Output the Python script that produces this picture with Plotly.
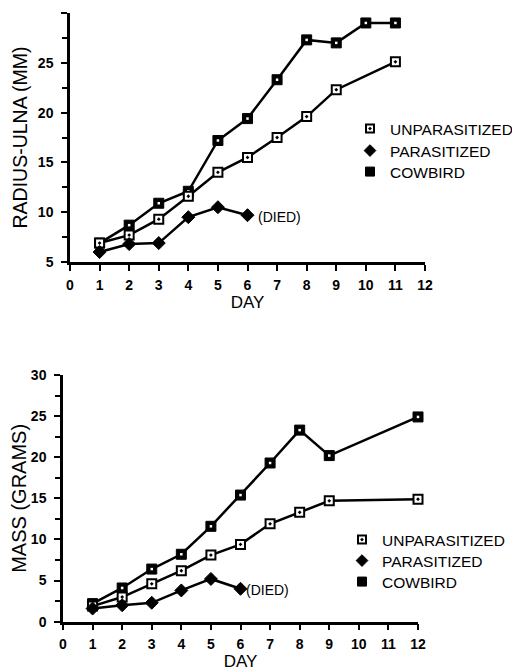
import plotly.graph_objects as go

# ---- data: top panel (radius-ulna, mm) ----
top_days_cowbird = [1, 2, 3, 4, 5, 6, 7, 8, 9, 10, 11]
top_cowbird = [6.9, 8.7, 10.9, 12.1, 17.2, 19.4, 23.3, 27.3, 27.0, 29.0, 29.0]
top_days_unpar = [1, 2, 3, 4, 5, 6, 7, 8, 9, 11]
top_unpar = [6.9, 7.7, 9.3, 11.6, 14.0, 15.5, 17.5, 19.6, 22.3, 25.1]
top_days_par = [1, 2, 3, 4, 5, 6]
top_par = [6.0, 6.8, 6.9, 9.5, 10.5, 9.7]

# ---- data: bottom panel (mass, grams) ----
bot_days = [1, 2, 3, 4, 5, 6, 7, 8, 9, 12]
bot_cowbird = [2.2, 4.1, 6.4, 8.2, 11.6, 15.4, 19.3, 23.3, 20.2, 24.9]
bot_unpar = [1.9, 3.0, 4.6, 6.2, 8.1, 9.4, 11.9, 13.3, 14.7, 14.9]
bot_days_par = [1, 2, 3, 4, 5, 6]
bot_par = [1.6, 2.0, 2.3, 3.8, 5.2, 4.0]

series_names = ["UNPARASITIZED", "PARASITIZED", "COWBIRD"]
x_ticks = list(range(0, 13))
died_label = "(DIED)"

FONT = "Liberation Sans, Arial, Helvetica, sans-serif"
BLACK = "black"
LW = 2.5

unpar_marker = dict(symbol="square-dot", size=9, color="white", line=dict(color=BLACK, width=2))
par_marker = dict(symbol="diamond", size=10, color=BLACK, line=dict(color=BLACK, width=1))
cow_marker = dict(symbol="square", size=10, color=BLACK, line=dict(color=BLACK, width=1))
cow_center = dict(symbol="square", size=2.5, color="white", line=dict(width=0))

fig = go.Figure()

def add_panel(xa, ya, dx_u, y_u, dx_p, y_p, dx_c, y_c):
    fig.add_trace(go.Scatter(x=dx_c, y=y_c, mode="lines+markers", xaxis=xa, yaxis=ya,
                             line=dict(color=BLACK, width=LW), marker=cow_marker,
                             showlegend=False, cliponaxis=False))
    fig.add_trace(go.Scatter(x=dx_c, y=y_c, mode="markers", xaxis=xa, yaxis=ya,
                             marker=cow_center, showlegend=False, cliponaxis=False,
                             hoverinfo="skip"))
    fig.add_trace(go.Scatter(x=dx_u, y=y_u, mode="lines+markers", xaxis=xa, yaxis=ya,
                             line=dict(color=BLACK, width=LW), marker=unpar_marker,
                             showlegend=False, cliponaxis=False))
    fig.add_trace(go.Scatter(x=dx_p, y=y_p, mode="lines+markers", xaxis=xa, yaxis=ya,
                             line=dict(color=BLACK, width=LW), marker=par_marker,
                             showlegend=False, cliponaxis=False))

add_panel("x", "y", top_days_unpar, top_unpar, top_days_par, top_par, top_days_cowbird, top_cowbird)
add_panel("x2", "y2", bot_days, bot_unpar, bot_days_par, bot_par, bot_days, bot_cowbird)

# The page has an 8px body margin: figure pixel = page pixel - 8
OFF = 8
W, H = 512, 664
def px_x(p):
    return (p - OFF) / W
def px_y(p):
    return 1 - (p - OFF) / H

# one legend per entry so each row can be placed exactly
legend_rows = {
    "top": dict(x=370, ys=[129, 151, 172], xa="x", ya="y"),
    "bot": dict(x=362, ys=[540, 561, 582], xa="x2", ya="y2"),
}
legend_layouts = {}
k = 1
for panel, spec in legend_rows.items():
    for name, mk, yrow in zip(series_names, [unpar_marker, par_marker, cow_marker], spec["ys"]):
        lname = "legend" if k == 1 else f"legend{k}"
        fig.add_trace(go.Scatter(x=[None], y=[None], mode="markers", name=name,
                                 marker=dict(mk, size=mk["size"] - 1), legend=lname,
                                 xaxis=spec["xa"], yaxis=spec["ya"]))
        legend_layouts[lname] = dict(x=px_x(spec["x"] - 20), y=px_y(yrow),
                                     xanchor="left", yanchor="middle",
                                     font=dict(family=FONT, size=15.5, color=BLACK),
                                     bgcolor="rgba(0,0,0,0)", itemwidth=30)
        k += 1

axis_common = dict(showgrid=False, zeroline=False, showline=True, linecolor=BLACK,
                   linewidth=LW, ticks="outside", tickcolor=BLACK, tickwidth=2,
                   ticklen=6, tickfont=dict(family=FONT, size=14, color=BLACK, weight="bold"),
                   automargin=False, fixedrange=True)
minor_common = dict(dtick=2.5, ticks="outside", ticklen=5, tickwidth=2, tickcolor=BLACK)

fig.update_layout(
    width=W, height=H,
    margin=dict(l=0, r=0, t=0, b=0, autoexpand=False),
    paper_bgcolor="white", plot_bgcolor="white",
    font=dict(family=FONT, color=BLACK),
    showlegend=True,
    xaxis=dict(axis_common, domain=[px_x(70), px_x(425)], range=[0, 12],
               tickvals=x_ticks, anchor="y", ticklabelstandoff=2,
               title=dict(text="DAY", font=dict(family=FONT, size=17), standoff=0)),
    yaxis=dict(axis_common, domain=[px_y(262), px_y(13)], range=[5, 30], dtick=5,
               anchor="x", minor=minor_common, ticklabelstandoff=5,
               title=dict(text="RADIUS-ULNA (MM)", font=dict(family=FONT, size=19.5), standoff=6)),
    xaxis2=dict(axis_common, domain=[px_x(63), px_x(418)], range=[0, 12],
                tickvals=x_ticks, anchor="y2", ticklabelstandoff=2,
                title=dict(text="DAY", font=dict(family=FONT, size=17), standoff=0)),
    yaxis2=dict(axis_common, domain=[px_y(621.7), px_y(375)], range=[0, 30], dtick=5,
                anchor="x2", minor=minor_common, ticklabelstandoff=5,
                title=dict(text="MASS (GRAMS)", font=dict(family=FONT, size=20), standoff=6)),
    annotations=[
        dict(x=top_days_par[-1], y=top_par[-1], xref="x", yref="y", text=died_label,
             showarrow=False, xanchor="left", xshift=8, yshift=-2,
             font=dict(family=FONT, size=14, color=BLACK)),
        dict(x=bot_days_par[-1], y=bot_par[-1], xref="x2", yref="y2", text=died_label,
             showarrow=False, xanchor="left", xshift=3, yshift=-1,
             font=dict(family=FONT, size=14, color=BLACK)),
    ],
    **legend_layouts,
)

fig.write_html("out.html")
